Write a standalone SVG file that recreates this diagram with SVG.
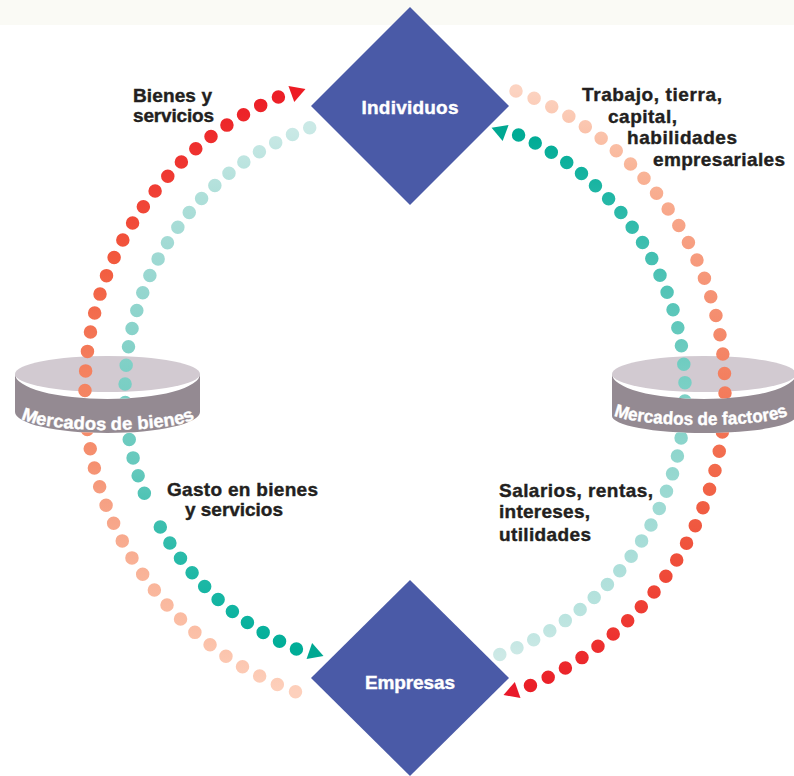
<svg xmlns="http://www.w3.org/2000/svg" xmlns:xlink="http://www.w3.org/1999/xlink" width="794" height="776" viewBox="0 0 794 776">
  <style>
    .diamond { fill: #4a5aa7; }
    .nodeText { font-family: "Liberation Sans", Arial, sans-serif; font-weight: 700; font-size: 19px; fill: #ffffff; stroke: #ffffff; stroke-width: 0.4; }
    .label { font-family: "Liberation Sans", Arial, sans-serif; font-weight: 700; font-size: 19px; fill: #231f20; stroke: #231f20; stroke-width: 0.4; }
    .cylTop { fill: #d2cad1; }
    .band { fill: #948a92; }
    .cylText { font-family: "Liberation Sans", Arial, sans-serif; font-weight: 700; font-size: 18px; fill: #ffffff; stroke: #ffffff; stroke-width: 0.4; }
    .dots { fill: none; stroke-width: 13.5; stroke-linecap: round; }
  </style>
  <defs>
    <path id="bandL" d="M15,374 A92.5,25 0 0 0 200,374 L200,412 A92.5,21 0 0 1 15,412 Z"/>
    <path id="bandR" d="M612,374 A92,25 0 0 0 796,374 L796,416 A92,17 0 0 1 612,416 Z"/>
    <path id="textArcL" d="M19,415 A89,15 0 0 0 197,415"/>
    <path id="textArcR" d="M611,412 A90,13 0 0 0 791,412"/>
    <path id="tri" d="M9,0 L-6,-8.5 L-6,8.5 Z"/>
    <mask id="bandMask" maskUnits="userSpaceOnUse" x="0" y="0" width="794" height="776">
      <rect x="0" y="0" width="794" height="776" fill="#fff"/>
      <use xlink:href="#bandL" href="#bandL" fill="#000"/>
      <use xlink:href="#bandR" href="#bandR" fill="#000"/>
    </mask>
    <linearGradient id="gLO" gradientUnits="userSpaceOnUse" x1="0" y1="97" x2="0" y2="692">
      <stop offset="0" stop-color="#ec1f27"/>
      <stop offset="0.163" stop-color="#f04035"/>
      <stop offset="0.277" stop-color="#f25a3e"/>
      <stop offset="0.459" stop-color="#f4815f"/>
      <stop offset="0.615" stop-color="#f59070"/>
      <stop offset="0.677" stop-color="#f6a083"/>
      <stop offset="0.798" stop-color="#f9b398"/>
      <stop offset="0.899" stop-color="#fbbfa6"/>
      <stop offset="1" stop-color="#fdd0bc"/>
    </linearGradient>
    <linearGradient id="gRO" gradientUnits="userSpaceOnUse" x1="0" y1="91" x2="0" y2="686">
      <stop offset="0" stop-color="#fcd3c1"/>
      <stop offset="0.13" stop-color="#f9b598"/>
      <stop offset="0.24" stop-color="#f7a184"/>
      <stop offset="0.49" stop-color="#f37e5e"/>
      <stop offset="0.63" stop-color="#f26a4c"/>
      <stop offset="0.72" stop-color="#f05a41"/>
      <stop offset="0.815" stop-color="#ef4a38"/>
      <stop offset="0.894" stop-color="#ee3832"/>
      <stop offset="0.955" stop-color="#ec2a2d"/>
      <stop offset="1" stop-color="#ea1f27"/>
    </linearGradient>
    <linearGradient id="gLI" gradientUnits="userSpaceOnUse" x1="0" y1="128" x2="0" y2="649">
      <stop offset="0" stop-color="#cae9e6"/>
      <stop offset="0.135" stop-color="#aedfd9"/>
      <stop offset="0.246" stop-color="#9fd9d3"/>
      <stop offset="0.457" stop-color="#7fd0c6"/>
      <stop offset="0.653" stop-color="#66c9bd"/>
      <stop offset="0.753" stop-color="#3ebfaf"/>
      <stop offset="0.846" stop-color="#22b9a7"/>
      <stop offset="0.927" stop-color="#10b4a1"/>
      <stop offset="1" stop-color="#00ad97"/>
    </linearGradient>
    <linearGradient id="gRI" gradientUnits="userSpaceOnUse" x1="0" y1="135" x2="0" y2="655">
      <stop offset="0" stop-color="#00ab95"/>
      <stop offset="0.075" stop-color="#15b3a0"/>
      <stop offset="0.156" stop-color="#2dbaaa"/>
      <stop offset="0.248" stop-color="#48c1b3"/>
      <stop offset="0.471" stop-color="#78cfc4"/>
      <stop offset="0.654" stop-color="#96d8d0"/>
      <stop offset="0.788" stop-color="#a8ddd8"/>
      <stop offset="0.894" stop-color="#b5e2dd"/>
      <stop offset="0.958" stop-color="#c2e6e2"/>
      <stop offset="1" stop-color="#cde9e6"/>
    </linearGradient>
  </defs>

  <rect x="0" y="0" width="794" height="776" fill="#ffffff"/>
  <rect x="0" y="0" width="794" height="25" fill="#fafaf5"/>

  <g id="mercado-bienes">
    <ellipse class="cylTop" cx="107.5" cy="374" rx="92.5" ry="18"/>
    <use xlink:href="#bandL" href="#bandL" class="band"/>
    <text class="cylText"><textPath xlink:href="#textArcL" href="#textArcL" startOffset="50%" text-anchor="middle" textLength="176" lengthAdjust="spacingAndGlyphs">Mercados de bienes</textPath></text>
  </g>

  <g id="mercado-factores">
    <ellipse class="cylTop" cx="704" cy="374" rx="92" ry="18"/>
    <use xlink:href="#bandR" href="#bandR" class="band"/>
    <text class="cylText"><textPath xlink:href="#textArcR" href="#textArcR" startOffset="50%" text-anchor="middle" textLength="176" lengthAdjust="spacingAndGlyphs">Mercados de factores</textPath></text>
  </g>

  <g id="connectors" mask="url(#bandMask)">
    <path class="dots" stroke="url(#gLO)" stroke-dasharray="0 19.57" d="M278.4,97.1 A320,320 0 0 0 296.1,691.9"/>
    <path class="dots" stroke="url(#gRO)" stroke-dasharray="0 19.56" d="M516.0,90.9 A320,320 0 0 1 530.0,685.6"/>
    <path class="dots" stroke="url(#gLI)" stroke-dasharray="0 18.63" d="M309.7,127.7 A280,280 0 0 0 144.4,493.4"/>
    <path class="dots" stroke="url(#gLI)" stroke-dasharray="0 18.62" d="M160.3,527.0 A280,280 0 0 0 296.5,649.1"/>
    <path class="dots" stroke="url(#gRI)" stroke-dasharray="0 18.50" d="M499.8,654.5 A280,280 0 0 0 517.8,134.7"/>
    <use xlink:href="#tri" href="#tri" fill="#ed1c24" transform="translate(297,92) rotate(-20)"/>
    <use xlink:href="#tri" href="#tri" fill="#e9192a" transform="translate(512,692) rotate(160.4)"/>
    <use xlink:href="#tri" href="#tri" fill="#00a892" transform="translate(315,653) rotate(19)"/>
    <use xlink:href="#tri" href="#tri" fill="#00a892" transform="translate(500,131) rotate(200.4)"/>
  </g>

  <g id="individuos">
    <polygon class="diamond" points="410,7 509,106 410,205 311,106"/>
    <text class="nodeText" x="410" y="114" text-anchor="middle" textLength="97">Individuos</text>
  </g>

  <g id="empresas">
    <polygon class="diamond" points="410,580 509,678 410,776 311,678"/>
    <text class="nodeText" x="410" y="689" text-anchor="middle" textLength="90">Empresas</text>
  </g>

  <g id="labels">
    <text class="label" x="133" y="102" textLength="79">Bienes y</text>
    <text class="label" x="133" y="122" textLength="81">servicios</text>
    <text class="label" x="582" y="101" textLength="140">Trabajo, tierra,</text>
    <text class="label" x="608" y="122.5" textLength="69">capital,</text>
    <text class="label" x="627" y="144" textLength="110">habilidades</text>
    <text class="label" x="653" y="165.5" textLength="132">empresariales</text>
    <text class="label" x="167" y="496" textLength="151">Gasto en bienes</text>
    <text class="label" x="185" y="516" textLength="98">y servicios</text>
    <text class="label" x="499" y="497" textLength="154">Salarios, rentas,</text>
    <text class="label" x="499" y="518" textLength="91">intereses,</text>
    <text class="label" x="499" y="541" textLength="92">utilidades</text>
  </g>
</svg>
